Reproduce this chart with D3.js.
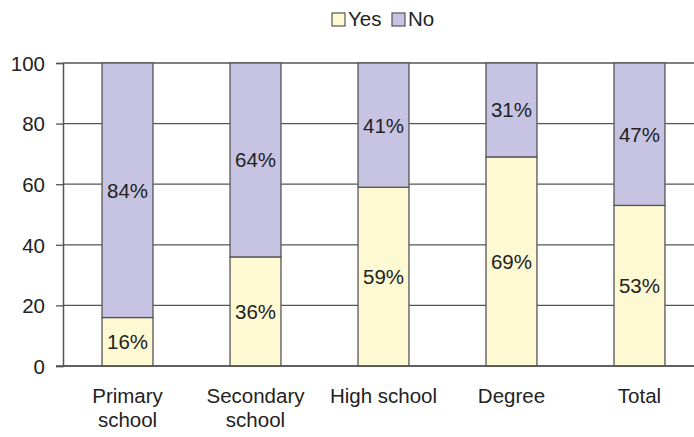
<!DOCTYPE html>
<html><head><meta charset="utf-8">
<script src="https://cdn.jsdelivr.net/npm/d3@7"></script>
<style>body{margin:0;background:#fff}svg{display:block;font-family:"Liberation Sans",Arial,sans-serif}</style>
</head><body>
<svg id="c" width="694" height="437"></svg>
<script>
const categories = ["Primary school","Secondary school","High school","Degree","Total"];
const yesValues = [16,36,59,69,53];
const noValues = [84,64,41,31,47];
const yTicks = [0,20,40,60,80,100];
const seriesNames = ["Yes","No"];
const colors = {Yes:"#fdf9d2", No:"#c6c4e2"};

const FS = 20.5;
const svg = d3.select("#c");
const m = {l:63, t:63, b:71};
const W = 694, H = 437;
const x = d3.scaleBand().domain(categories).range([m.l, 704]).paddingInner(0.602).paddingOuter(0.305);
const y = d3.scaleLinear().domain([0,100]).range([H - m.b, m.t]);

// gridlines
svg.append("g").selectAll("line").data(yTicks).join("line")
  .attr("x1", m.l).attr("x2", W)
  .attr("y1", d => y(d)).attr("y2", d => y(d))
  .attr("stroke", "#555").attr("stroke-width", 1.3);

const data = categories.map((c,i) => ({cat:c, Yes:yesValues[i], No:noValues[i]}));
const stack = d3.stack().keys(seriesNames)(data);
const g = svg.append("g");
stack.forEach(s => {
  g.selectAll(null).data(s).join("rect")
    .attr("x", d => x(d.data.cat))
    .attr("width", x.bandwidth())
    .attr("y", d => y(s.key === "No" ? 100 : d[1]))
    .attr("height", d => y(d[0]) - y(s.key === "No" ? 100 : d[1]))
    .attr("fill", colors[s.key]).attr("stroke", "#555").attr("stroke-width", 1.3);
  g.selectAll(null).data(s).join("text")
    .attr("x", d => x(d.data.cat) + x.bandwidth()/2)
    .attr("y", d => (y(d[0]) + y(d[1]))/2 + 7.5)
    .attr("text-anchor", "middle").attr("font-size", FS).attr("fill", "#222")
    .text(d => (d[1]-d[0]) + "%");
});

// y axis
const ya = svg.append("g").attr("transform", `translate(${m.l},0)`)
  .call(d3.axisLeft(y).tickValues(yTicks).tickSize(7).tickPadding(11));
ya.select(".domain").attr("stroke", "#555").attr("stroke-width", 1.5);
ya.selectAll(".tick line").attr("stroke", "#555").attr("stroke-width", 1.3);
ya.selectAll("text").attr("font-size", FS).attr("fill", "#222").attr("font-family", "Liberation Sans, Arial, sans-serif").attr("dy", "0.36em");

// x axis line
svg.append("line").attr("x1", m.l - 7).attr("x2", W).attr("y1", y(0)).attr("y2", y(0))
  .attr("stroke", "#555").attr("stroke-width", 1.5);

// x labels
const xl = svg.append("g");
categories.forEach(c => {
  const words = c.split(" ");
  const lines = words.length > 1 && c !== "High school" ? words : [c];
  const t = xl.append("text").attr("x", x(c) + x.bandwidth()/2).attr("y", 403)
    .attr("text-anchor", "middle").attr("font-size", FS).attr("fill", "#222");
  lines.forEach((l,i) => t.append("tspan").attr("x", x(c) + x.bandwidth()/2).attr("dy", i ? 24 : 0).text(l));
});

// legend
const lg = svg.append("g");
const lx = [332, 392];
seriesNames.forEach((n,i) => {
  lg.append("rect").attr("x", lx[i]).attr("y", 13).attr("width", 13).attr("height", 13)
    .attr("fill", colors[n]).attr("stroke", "#555").attr("stroke-width", 1.2);
  lg.append("text").attr("x", lx[i] + 16).attr("y", 26).attr("font-size", FS).attr("fill", "#222").text(n);
});
</script>
</body></html>
